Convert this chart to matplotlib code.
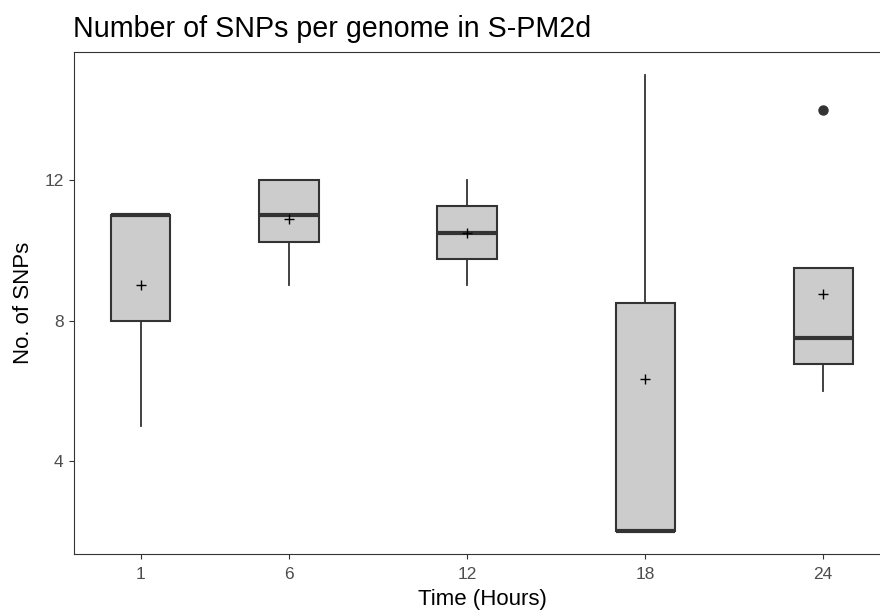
import matplotlib
matplotlib.use("Agg")
import matplotlib.pyplot as plt

plt.rcParams['font.family'] = ['Liberation Sans', 'DejaVu Sans']

times = [1, 6, 12, 18, 24]
q1 = [8, 10.25, 9.75, 2, 6.75]
medians = [11, 11, 10.5, 2, 7.5]
q3 = [11, 12, 11.25, 8.5, 9.5]
whislo = [5, 9, 9, 2, 6]
whishi = [11, 12, 12, 15, 9.5]
means = [9, 10.9, 10.5, 6.33, 8.75]
outliers = [[], [], [], [], [14]]
yticks = [4, 8, 12]

stats = []
for i in range(len(times)):
    stats.append(dict(q1=q1[i], med=medians[i], q3=q3[i], whislo=whislo[i],
                      whishi=whishi[i], mean=means[i], fliers=outliers[i]))

fig = plt.figure(figsize=(8.8, 6.16), dpi=100)
ax = fig.add_axes([74/880, 1-554/616, (890-74)/880, (554-52)/616])

dark = '#333333'
ax.bxp(stats, positions=times, widths=2, patch_artist=True, showmeans=True,
       showcaps=False, showfliers=True,
       boxprops=dict(facecolor='#CCCCCC', edgecolor=dark, linewidth=1.5),
       medianprops=dict(color=dark, linewidth=3),
       whiskerprops=dict(color=dark, linewidth=1.3),
       meanprops=dict(marker='+', markeredgecolor='black', markersize=7.5, markeredgewidth=1.0),
       flierprops=dict(marker='o', markerfacecolor=dark, markeredgecolor=dark, markersize=6.5))

ax.set_xlim(-1.25, 26.25)
ax.set_ylim(1.35, 15.65)
ax.set_xticks(times)
ax.set_xticklabels([str(t) for t in times])
ax.set_yticks(yticks)
ax.set_yticklabels([str(t) for t in yticks])
ax.tick_params(axis='both', colors=dark, labelcolor='#4D4D4D', labelsize=12.5, length=3.5, width=0.8)
ax.tick_params(axis='x', pad=6)
ax.tick_params(axis='y', pad=4)
for s in ax.spines.values():
    s.set_color(dark)
    s.set_linewidth(0.8)

ax.set_xlabel('Time (Hours)', fontsize=16, color='black', labelpad=5)
ax.set_ylabel('No. of SNPs', fontsize=16, color='black', labelpad=7)
fig.text(73/880, 1-29/616, 'Number of SNPs per genome in S-PM2d', fontsize=20.6, va='center', ha='left')

fig.savefig('out.png', dpi=100)
